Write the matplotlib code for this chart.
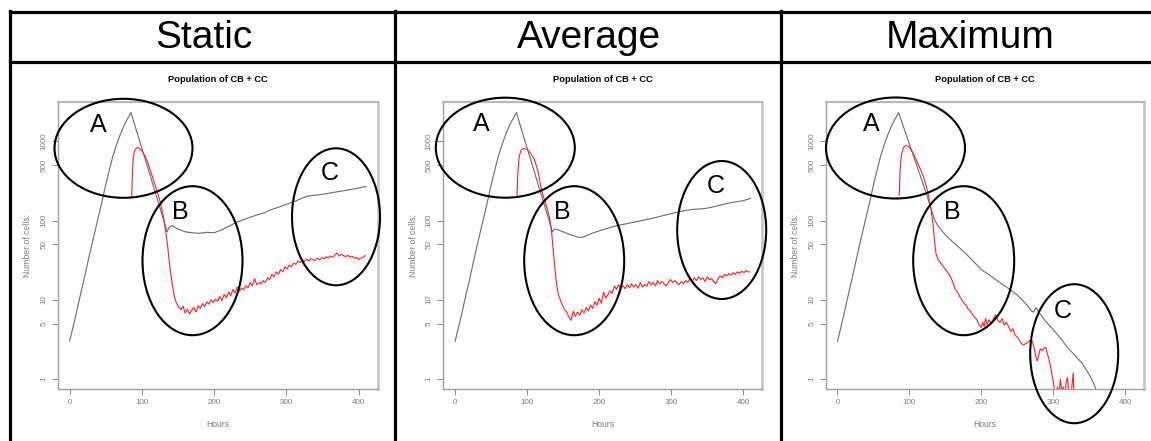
# recreating the "Static / Average / Maximum" population comparison figure
import matplotlib
matplotlib.use("Agg")
import matplotlib.pyplot as plt
from matplotlib.patches import Ellipse
from matplotlib.lines import Line2D

plt.rcParams['font.family'] = ['Liberation Sans', 'DejaVu Sans']

W, H = 1151, 441

# ---- data (hours, number of cells) ----
rise_hours = [0, 5, 10, 15, 20, 25, 30, 35, 40, 45, 50, 55, 60, 65, 70, 75, 80, 85]
rise_cells = [3.0, 4.6, 7.2, 11.5, 18, 29, 46, 72, 112, 175, 280, 430, 650, 900, 1200, 1550, 1900, 2300]

static_gray_hours = rise_hours + [95, 105, 115, 125, 135, 138, 142, 150, 160, 170, 180, 190, 200,
                                  210, 220, 230, 240, 250, 260, 270, 280, 290, 300, 310, 320, 330,
                                  340, 350, 360, 370, 380, 390, 400, 410]
static_gray_cells = rise_cells + [1150, 580, 290, 145, 72, 82, 86, 78, 72, 70, 69, 71, 70,
                                  76, 84, 94, 102, 110, 118, 126, 138, 148, 160, 172, 188, 204,
                                  208, 214, 222, 230, 238, 247, 257, 268]

static_red_hours = [86, 87, 88, 90, 93, 96, 100, 105, 110, 115, 120, 125, 130, 133, 136, 139, 142,
                    145, 148, 151, 154, 157, 160, 163, 166, 169, 172, 175, 178, 181, 184, 187, 190,
                    193, 196, 199, 202, 205, 208, 211, 214, 217, 220, 223, 226, 229, 232, 235, 238,
                    241, 244, 247, 250, 253, 256, 259, 262, 265, 268, 271, 274, 277, 280, 283, 286,
                    289, 292, 295, 298, 301, 304, 307, 310, 313, 316, 319, 322, 325, 328, 331, 334,
                    337, 340, 343, 346, 349, 352, 355, 358, 361, 364, 367, 370, 373, 376, 379, 382,
                    385, 388, 391, 394, 397, 400, 403, 406, 409]
static_red_cells = [200, 400, 600, 760, 830, 820, 760, 640, 480, 350, 250, 180, 110, 75, 45, 25, 16,
                    11, 9.0, 8.2, 7.5, 8.3, 6.8, 7.6, 6.6, 7.4, 8.0, 7.0, 8.4, 7.8, 9.0, 8.2, 9.4,
                    8.8, 10.0, 9.2, 10.2, 9.6, 11.0, 9.8, 11.8, 10.6, 12.5, 11.2, 13.5, 12.2, 14.5, 13.0, 14.0,
                    13.5, 15.0, 14.2, 16.5, 15.0, 18.5, 15.5, 16.5, 15.8, 17.5, 16.6, 19.0, 18.0, 21.0, 19.5, 22.5,
                    21.0, 24.0, 22.5, 26.0, 24.5, 27.5, 26.0, 29.0, 28.0, 31.0, 29.5, 32.0, 30.5, 32.5, 31.0, 33.0,
                    32.0, 31.5, 33.5, 32.0, 34.0, 33.0, 35.0, 33.5, 35.5, 34.5, 36.5, 39.0, 35.5, 37.5, 36.0, 35.0,
                    36.5, 34.5, 35.5, 33.5, 34.0, 32.5, 33.5, 34.5, 36.0]

avg_gray_hours = rise_hours + [95, 105, 115, 125, 135, 138, 142, 150, 160, 170, 175, 180, 190, 200,
                               210, 220, 230, 240, 250, 260, 270, 280, 290, 300, 310, 320, 330,
                               340, 350, 360, 370, 380, 390, 400, 410]
avg_gray_cells = rise_cells + [1150, 580, 290, 145, 72, 78, 77, 72, 66, 62, 61, 63, 69, 74,
                               79, 84, 88, 92, 96, 100, 105, 110, 116, 122, 128, 134, 138,
                               140, 143, 150, 158, 166, 172, 178, 190]

avg_red_hours = [86, 87, 89, 92, 95, 100, 105, 110, 115, 120, 125, 128, 131, 134, 137, 140, 143,
                 146, 149, 152, 155, 158, 161, 164, 167, 170, 173, 176, 179, 182, 185, 188, 191,
                 194, 197, 200, 203, 206, 209, 212, 215, 218, 221, 224, 227, 230, 233, 236, 239,
                 242, 245, 248, 251, 254, 257, 260, 263, 266, 269, 272, 275, 278, 281, 284, 287,
                 290, 293, 296, 299, 302, 305, 308, 311, 314, 317, 320, 323, 326, 329, 332, 335,
                 338, 341, 344, 347, 350, 353, 356, 359, 362, 365, 368, 371, 374, 377, 380, 383,
                 386, 389, 392, 395, 398, 401, 404, 407, 409]
avg_red_cells = [200, 400, 650, 780, 810, 790, 700, 590, 420, 240, 170, 140, 110, 70, 35, 18, 12,
                 10, 8.5, 7.5, 7.0, 6.0, 5.5, 7.2, 6.2, 7.0, 6.4, 7.5, 6.8, 8.0, 7.2, 8.6, 7.8,
                 9.5, 8.5, 10.5, 9.0, 12.5, 10.5, 11.5, 13.0, 12.0, 15.0, 13.5, 15.5, 14.0, 15.0, 13.8, 15.5,
                 14.2, 16.0, 14.5, 15.5, 14.0, 16.5, 14.5, 15.5, 14.8, 17.0, 15.5, 16.5, 15.0, 17.5, 15.8, 17.0,
                 16.0, 15.0, 16.5, 18.0, 16.5, 17.5, 16.2, 15.5, 17.0, 16.0, 17.5, 16.5, 18.5, 17.0, 19.0, 17.5,
                 19.5, 18.0, 19.0, 17.0, 19.5, 18.0, 18.5, 16.8, 16.0, 18.5, 20.0, 19.0, 21.0, 20.0, 21.5, 20.5,
                 22.0, 21.0, 22.5, 21.5, 23.0, 22.0, 23.5, 22.5, 22.5]

max_gray_hours = rise_hours + [95, 105, 115, 125, 135, 140, 150, 160, 170, 180, 190, 200, 210,
                               220, 230, 240, 250, 260, 265, 270, 273, 276, 280, 290, 300, 310,
                               320, 330, 340, 350, 356, 360]
max_gray_cells = rise_cells + [1250, 680, 370, 200, 102, 85, 66, 54, 45, 37, 30, 24, 21,
                               18, 15.5, 13.5, 11.5, 9.3, 8.3, 7.2, 7.0, 8.0, 7.0, 5.3, 4.2, 3.3,
                               2.5, 2.0, 1.6, 1.15, 0.9, 0.72]

max_red_hours = [86, 87, 89, 92, 95, 99, 104, 110, 115, 120, 125, 130, 133, 135, 137, 140, 143,
                 146, 149, 152, 155, 158, 161, 164, 167, 170, 173, 176, 179, 182, 185, 188, 191,
                 194, 197, 200, 202, 204, 206, 208, 211, 214, 217, 220, 223, 226, 229, 232, 235,
                 238, 241, 244, 247, 250, 253, 256, 259, 262, 265, 268, 271, 274, 276, 278, 280,
                 282, 285, 288, 290, 292, 294, 296, 298, 300, 302, 304, 306, 308, 310, 312, 314,
                 316, 318, 320, 322, 324, 326, 328, 329]
max_red_cells = [210, 420, 680, 840, 880, 860, 740, 570, 450, 350, 240, 140, 90, 55, 38, 32, 30,
                 27, 25, 23, 21, 19, 16, 13.5, 12.5, 11.0, 10.0, 9.0, 8.6, 7.6, 7.2, 6.5, 6.0,
                 5.6, 4.8, 4.5, 5.2, 4.6, 5.8, 4.9, 5.6, 5.0, 5.8, 6.5, 5.5, 5.2, 5.8, 4.8, 5.2,
                 4.6, 4.0, 4.3, 3.6, 3.4, 3.1, 2.8, 2.7, 2.8, 2.9, 3.1, 3.0, 2.4, 1.9, 1.7, 2.0,
                 2.4, 2.3, 2.5, 2.5, 2.1, 1.8, 1.5, 1.2, 0.95, 0.7, 0.5, 0.8, 0.6, 1.0, 0.7, 0.8,
                 0.5, 0.9, 1.05, 0.6, 0.5, 0.8, 1.2, 0.5]

headers = ["Static", "Average", "Maximum"]
series = [
    (static_gray_hours, static_gray_cells, static_red_hours, static_red_cells),
    (avg_gray_hours, avg_gray_cells, avg_red_hours, avg_red_cells),
    (max_gray_hours, max_gray_cells, max_red_hours, max_red_cells),
]
y_ticks = [1, 5, 10, 50, 100, 500, 1000]
x_ticks = [0, 100, 200, 300, 400]


def fx(px):
    return px / W


def fy(py):
    return 1 - py / H


fig = plt.figure(figsize=(W / 100, H / 100), dpi=100)
fig.patch.set_facecolor("white")

# table frame
black_lines = [
    ([10, W], [12, 12]),
    ([10, W], [62, 62]),
    ([10, 10], [11, H]),
    ([395, 395], [11, H]),
    ([781, 781], [11, H]),
]
for xs, ys in black_lines:
    fig.add_artist(Line2D([fx(v) for v in xs], [fy(v) for v in ys], color="black", lw=2.3))

header_centres = [204, 589, 970]
for name, cx in zip(headers, header_centres):
    fig.text(fx(cx), fy(38), name, ha="center", va="center", fontsize=28, color="black")

# axes placement (pixels: left, right)
axes_px = [(57.7, 377.7), (443.3, 762.3), (825.7, 1144)]
top_px, bottom_px = 101.7, 389
grey = "#8c8c8c"

for (left, right), (gh, gc, rh, rc) in zip(axes_px, series):
    ax = fig.add_axes([fx(left), fy(bottom_px), (right - left) / W, (bottom_px - top_px) / H])
    ax.plot(gh, gc, color="#6a6a6a", lw=0.8)
    ax.plot(rh, rc, color="#ff2020", lw=0.8)
    ax.set_yscale("log")
    ax.set_xlim(-16.4, 426.4)
    ax.set_ylim(0.75, 3150)
    ax.set_yticks(y_ticks)
    ax.set_yticklabels([str(t) for t in y_ticks], rotation=90, va="center")
    ax.minorticks_off()
    ax.set_xticks(x_ticks)
    ax.tick_params(colors=grey, labelcolor="#7a7a7a", labelsize=5.8, length=4, width=0.7, pad=3.5)
    for sp in ax.spines.values():
        sp.set_color("#a0a0a0")
        sp.set_linewidth(1.0)
    ax.spines["right"].set_linewidth(2.0)
    ax.spines["right"].set_color("#c8c8c8")
    ax.spines["top"].set_linewidth(1.6)
    ax.spines["top"].set_color("#b8b8b8")
    ax.set_title("Population of CB + CC", fontsize=6.7, fontweight="bold", pad=14)
    ax.set_xlabel("Hours", fontsize=6.2, color="#7a7a7a", labelpad=10)
    ax.set_ylabel("Number of cells:", fontsize=6.2, color="#7a7a7a", labelpad=6)

# annotation ellipses: (centre x, centre y, width, height) in pixels, label position
ellipses = [
    (123.5, 148.3, 138, 99, "A", 98, 125),
    (192.5, 260.7, 100, 149, "B", 180, 212),
    (336, 216.8, 88, 137, "C", 330, 173),
    (505.3, 147.7, 139, 100, "A", 481, 124),
    (574.2, 260.7, 100, 149, "B", 562, 212),
    (721.7, 230, 89, 138, "C", 716, 186),
    (895.5, 148, 139, 101, "A", 871, 124),
    (963.7, 260.7, 101, 149, "B", 952, 212),
    (1074.2, 353.7, 88, 139, "C", 1063, 311),
]
for cx, cy, w, h, lab, lx, ly in ellipses:
    e = Ellipse((fx(cx), fy(cy)), w / W, h / H, transform=fig.transFigure,
                fill=False, edgecolor="black", lw=1.5, zorder=5)
    fig.add_artist(e)
    fig.text(fx(lx), fy(ly), lab, ha="center", va="center", fontsize=18, color="black", zorder=6)

fig.savefig("out.png", dpi=100)
